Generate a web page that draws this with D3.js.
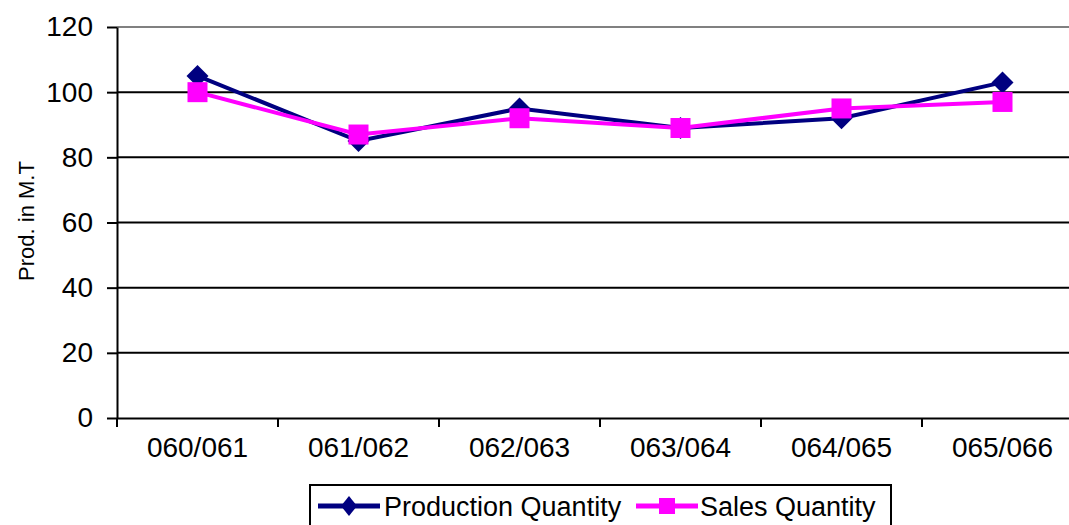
<!DOCTYPE html>
<html>
<head>
<meta charset="utf-8">
<script src="https://cdn.jsdelivr.net/npm/d3@7"></script>
<style>
  html, body { margin: 0; padding: 0; background: #fff; }
  svg { display: block; font-family: "Liberation Sans", Arial, sans-serif; }
</style>
</head>
<body>
<svg id="chart" width="1069" height="525"></svg>
<script>
// Fiscal years on the category axis
const years = ["060/061", "061/062", "062/063", "063/064", "064/065", "065/066"];
// Quantities in metric tonnes
const production = [105, 85, 95, 89, 92, 103];
const sales = [100, 87, 92, 89, 95, 97];
const yTicks = [0, 20, 40, 60, 80, 100, 120];
const seriesNames = ["Production Quantity", "Sales Quantity"];
const seriesColors = ["#000080", "#FF00FF"];

const svg = d3.select("#chart");
svg.append("rect").attr("width", 1069).attr("height", 525).attr("fill", "#fff");

// Plot area (extends slightly past the right edge of the canvas)
const plot = { left: 117, right: 1083, top: 27, bottom: 418 };

const x = d3.scaleBand().domain(years).range([plot.left, plot.right]);
const y = d3.scaleLinear().domain([0, 120]).range([plot.bottom, plot.top]);

// Horizontal gridlines
svg.append("g").selectAll("line")
  .data(yTicks.filter(t => t > 0))
  .join("line")
  .attr("x1", plot.left).attr("x2", plot.right)
  .attr("y1", d => y(d)).attr("y2", d => y(d))
  .attr("stroke", d => d === 120 ? "#808080" : "#000")
  .attr("stroke-width", 2);

// Y axis
const yAxis = svg.append("g")
  .attr("transform", `translate(${plot.left},0)`)
  .call(d3.axisLeft(y).tickValues(yTicks).tickSize(10).tickPadding(14).tickSizeOuter(0));
yAxis.select(".domain").attr("stroke", "#000").attr("stroke-width", 2);
yAxis.selectAll(".tick line").attr("stroke", "#000").attr("stroke-width", 2);
yAxis.selectAll(".tick text")
  .attr("font-size", 28).attr("fill", "#000")
  .attr("font-family", "Liberation Sans, Arial, sans-serif");

// X axis with ticks at category boundaries
const xAxis = svg.append("g")
  .attr("transform", `translate(0,${plot.bottom})`)
  .call(d3.axisBottom(x).tickSize(0).tickPadding(19).tickSizeOuter(0));
xAxis.select(".domain").attr("stroke", "#000").attr("stroke-width", 2);
xAxis.selectAll(".tick text")
  .attr("font-size", 28).attr("fill", "#000")
  .attr("font-family", "Liberation Sans, Arial, sans-serif");
svg.append("g").selectAll("line")
  .data(years.map(d => x(d)).concat([x(years[years.length - 1]) + x.bandwidth()]))
  .join("line")
  .attr("x1", d => d).attr("x2", d => d)
  .attr("y1", plot.bottom).attr("y2", plot.bottom + 9)
  .attr("stroke", "#000").attr("stroke-width", 2);

// Y axis title
svg.append("text")
  .attr("transform", `translate(34,221) rotate(-90)`)
  .attr("text-anchor", "middle")
  .attr("font-size", 22)
  .attr("fill", "#000")
  .text("Prod. in M.T");

const cx = d => x(d) + x.bandwidth() / 2;
const line = d3.line().x(d => cx(d.year)).y(d => y(d.value));

const diamond = (w, h) => `M0,${-h}L${w},0L0,${h}L${-w},0Z`;

// Production series
const prodData = years.map((yr, i) => ({ year: yr, value: production[i] }));
svg.append("path").datum(prodData)
  .attr("d", line).attr("fill", "none")
  .attr("stroke", seriesColors[0]).attr("stroke-width", 4);
svg.append("g").selectAll("path")
  .data(prodData).join("path")
  .attr("transform", d => `translate(${cx(d.year)},${y(d.value)})`)
  .attr("d", diamond(11, 11))
  .attr("fill", seriesColors[0]);

// Sales series
const salesData = years.map((yr, i) => ({ year: yr, value: sales[i] }));
svg.append("path").datum(salesData)
  .attr("d", line).attr("fill", "none")
  .attr("stroke", seriesColors[1]).attr("stroke-width", 4);
svg.append("g").selectAll("rect")
  .data(salesData).join("rect")
  .attr("x", d => cx(d.year) - 10).attr("y", d => y(d.value) - 10)
  .attr("width", 20).attr("height", 20)
  .attr("fill", seriesColors[1]);

// Legend
const legend = svg.append("g");
legend.append("rect")
  .attr("x", 310).attr("y", 485).attr("width", 581).attr("height", 60)
  .attr("fill", "#fff").attr("stroke", "#000").attr("stroke-width", 2);
const legendItems = [
  { x: 318, textX: 384, marker: "diamond" },
  { x: 636, textX: 700, marker: "square" }
];
legendItems.forEach((it, i) => {
  const g = legend.append("g");
  g.append("line")
    .attr("x1", it.x).attr("x2", it.x + 62)
    .attr("y1", 506).attr("y2", 506)
    .attr("stroke", seriesColors[i]).attr("stroke-width", 5);
  if (it.marker === "diamond") {
    g.append("path")
      .attr("transform", `translate(${it.x + 31},506)`)
      .attr("d", diamond(8, 10))
      .attr("fill", seriesColors[i]);
  } else {
    g.append("rect")
      .attr("x", it.x + 23).attr("y", 498).attr("width", 16).attr("height", 16)
      .attr("fill", seriesColors[i]);
  }
  g.append("text")
    .attr("x", it.textX).attr("y", 516)
    .attr("font-size", 27).attr("fill", "#000")
    .text(seriesNames[i]);
});
</script>
</body>
</html>
